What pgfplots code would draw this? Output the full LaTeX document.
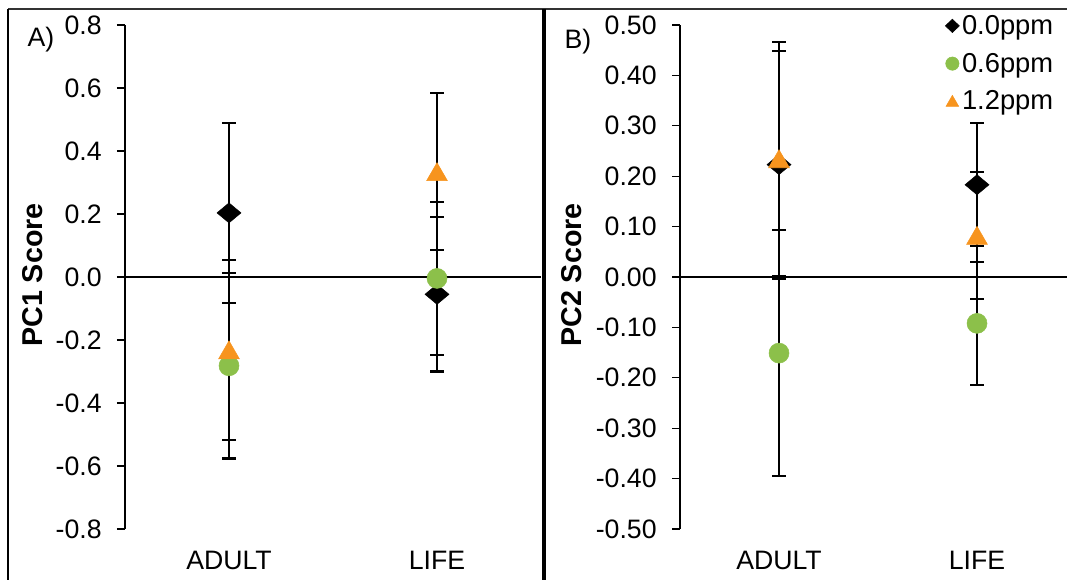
\documentclass[border=0pt]{standalone}
\usepackage{fontspec}
\setmainfont{Liberation Sans}
\usepackage{pgfplots}
\pgfplotsset{compat=1.18}
\definecolor{mygreen}{RGB}{140,192,74}
\definecolor{myorange}{RGB}{247,148,30}
\newcommand{\bigfont}{\fontsize{20}{23}\selectfont}
\newcommand{\legfont}{\fontsize{20.5}{23}\selectfont}
\newcommand{\labfont}{\fontsize{21.5}{24}\selectfont}
\pgfplotsset{
  panel/.style={
    scale only axis,
    height=378pt,
    xmin=0.5,
    axis y line*=left,
    axis x line*=bottom,
    x axis line style={draw=none},
    y axis line style={line width=1pt},
    ytick style={line width=1pt, black},
    xtick style={draw=none},
    tick align=outside,
    major tick length=6pt,
    xtick={1,2},
    xticklabels={ADULT,LIFE},
    tick label style={font=\bigfont},
    /pgf/number format/assume math mode=true,
    /pgf/number format/fixed,
    /pgf/number format/fixed zerofill,
    extra y ticks={0},
    extra y tick labels={},
    extra y tick style={grid=major, major grid style={black, line width=0.8pt}, major tick length=0pt},
    clip=false,
    error bars/error bar style={line width=1.6pt, black},
    error bars/error mark options={rotate=90, mark size=5pt, line width=1.6pt, black},
  },
  s0/.style={only marks, mark=diamond*, mark size=7.5pt, mark options={xscale=1.6, fill=black, draw=black}, forget plot,
    error bars/.cd, y dir=both, y explicit},
  s1/.style={only marks, mark=*, mark size=7.5pt, mark options={fill=mygreen, draw=mygreen}, forget plot,
    error bars/.cd, y dir=both, y explicit},
  s2/.style={only marks, mark=triangle*, mark size=9pt, mark options={yshift=-2.2pt, fill=myorange, draw=myorange}, forget plot,
    error bars/.cd, y dir=both, y explicit},
}
\begin{document}
\begin{tikzpicture}
\path[use as bounding box] (0,0) rectangle (800.25pt,-435pt);
% Panel A
\begin{axis}[panel,
  at={(93.75pt,-396.75pt)}, anchor=south west,
  width=312pt, xmax=2.5,
  ymin=-0.8, ymax=0.8, ytick={-0.8,-0.6,...,0.81},
  /pgf/number format/precision=1,
  yticklabel style={xshift=-8pt},
  xticklabel style={yshift=-7pt},
]
\addplot+[s0] coordinates {(1,0.2035) +- (0,0.2865) (2,-0.055) +- (0,0.245)};
\addplot+[s1] coordinates {(1,-0.282) +- (0,0.294) (2,-0.0045) +- (0,0.2435)};
\addplot+[s2] coordinates {(1,-0.2315) +- (0,0.2855) (2,0.334) +- (0,0.249)};
\end{axis}
% Panel B
\begin{axis}[panel,
  at={(510pt,-396.75pt)}, anchor=south west,
  width=290.25pt, xmax=2.4545,
  ymin=-0.5, ymax=0.5, ytick={-0.5,-0.4,...,0.51},
  /pgf/number format/precision=2,
  yticklabel style={xshift=-8pt},
  xticklabel style={yshift=-7pt},
  legend style={draw=none, fill=none, font=\legfont, at={(0.685,1.025)}, anchor=north west,
    row sep=8.5pt, inner sep=0pt, cells={anchor=west}},
  legend image code/.code={\draw[#1] plot coordinates {(0.2cm,0cm)};},
]
\addplot+[s0] coordinates {(1,0.223) +- (0,0.226) (2,0.183) +- (0,0.122)};
\addplot+[s1] coordinates {(1,-0.151) +- (0,0.244) (2,-0.092) +- (0,0.122)};
\addplot+[s2] coordinates {(1,0.2345) +- (0,0.2325) (2,0.0825) +- (0,0.1265)};
\addlegendimage{only marks, mark=diamond*, mark size=5pt, mark options={xscale=1.4, fill=black, draw=black}}
\addlegendentry{0.0ppm}
\addlegendimage{only marks, mark=*, mark size=5pt, mark options={fill=mygreen, draw=mygreen}}
\addlegendentry{0.6ppm}
\addlegendimage{only marks, mark=triangle*, mark size=5.5pt, mark options={yshift=-1pt, fill=myorange, draw=myorange}}
\addlegendentry{1.2ppm}
\end{axis}
% frames and labels
\begin{scope}[x=0.75pt, y=-0.75pt]
\draw[line width=1.2pt, black!80] (8,9) -- (1067,9);
\draw[line width=1.5pt] (8,9) -- (8,580);
\draw[line width=2.6pt] (544,9) -- (544,580);
\node[font=\bigfont] at (41,40) {A)};
\node[font=\bigfont] at (578,42) {B)};
\node[font=\labfont\bfseries, rotate=90] at (33,275) {PC1 Score};
\node[font=\labfont\bfseries, rotate=90] at (572,275) {PC2 Score};
\end{scope}
\end{tikzpicture}
\end{document}
